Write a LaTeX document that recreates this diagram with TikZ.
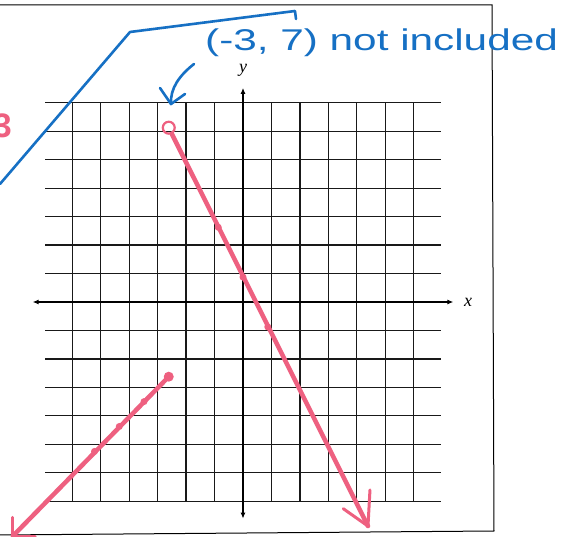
\documentclass[tikz,border=0pt]{standalone}
\usepackage{fontspec}
\setmainfont{Liberation Sans}
\newfontfamily\axisfont{Liberation Serif}
\usetikzlibrary{arrows.meta}
\definecolor{penpink}{RGB}{238,96,128}
\definecolor{penblue}{RGB}{22,112,196}
\tikzset{
  gridline/.style={black!90, line width=1.25pt},
  axisline/.style={black, line width=1.5pt, -{Latex[length=6pt,width=5pt]}},
  pinkpen/.style={penpink, line width=4.5pt, line cap=round, line join=round},
  bluepen/.style={penblue, line width=2.6pt, line cap=round, line join=round},
  frameline/.style={black, line width=1pt},
  pinkdot/.style={circle, fill=penpink, inner sep=0pt, minimum size=7pt},
  axlabel/.style={font=\axisfont\itshape\fontsize{18}{18}\selectfont, inner sep=0pt}
}
\begin{document}
\begin{tikzpicture}[x=1pt,y=-1pt]
\useasboundingbox (0,0) rectangle (574,537);
\fill[white] (0,0) rectangle (574,537);
% frame
\draw[frameline] (0,5) -- (492,5) -- (494,531) -- (0,535);
% graph
\begin{scope}[shift={(243,302)}, x=24.75pt, y=24.9pt]
  \draw[gridline] (-8,-8) grid (8,8);
  \draw[axisline] (0,0) -- (8.5,0);
  \draw[axisline] (0,0) -- (-8.5,0);
  \draw[axisline] (0,0) -- (0,8.6);
  \draw[axisline] (0,0) -- (0,-8.7);
  \node[axlabel] (xl) at (9.1,0) {x};
  \node[axlabel] (yl) at (0,9.3) {y};
  % line 1: y = -2x + 1
  \coordinate (p1) at (-3,7);
  \coordinate (e1) at (5.05,-9.0);
  \draw[pinkpen] (p1) ++(0.12,-0.24) -- (e1);
  \draw[pinkpen, line width=3pt] (e1) -- ++(-1.0,0.7);
  \draw[pinkpen, line width=3pt] (e1) -- ++(0.08,1.45);
  \draw[penpink, line width=2.2pt] (p1) circle (0.24);
  \foreach \px/\py in {-1/3, 0/1, 1/-1} \node[pinkdot] at (\px,\py) {};
  % line 2: y = x
  \coordinate (p2) at (-3,-3);
  \coordinate (e2) at (-9.3,-9.4);
  \draw[pinkpen] (p2) -- (e2);
  \draw[pinkpen, line width=3pt] (e2) -- ++(0,0.75);
  \draw[pinkpen, line width=3pt] (e2) -- ++(0.9,0);
  \node[pinkdot, minimum size=10pt] at (p2) {};
  \foreach \q in {-4,-5,-6} \node[pinkdot] at (\q,\q) {};
\end{scope}
% blue annotation
\draw[bluepen] (0,184) -- (130,32) -- (295,11) -- (296,19);
\node[penblue, font=\fontsize{30}{34}\selectfont, anchor=base west, inner sep=0pt] (note) at (205,51) {\scalebox{1.41}[1]{(-3, 7) not included}};
\draw[bluepen] (194,64) .. controls (180,75) and (170,88) .. (171,104);
\draw[bluepen] (160,88) -- (171,104) -- (185,94);
% pink label at left
\node[penpink, font=\fontsize{34}{34}\selectfont\bfseries, anchor=east, inner sep=0pt] (lbl) at (12,126) {3};
\end{tikzpicture}
\end{document}
